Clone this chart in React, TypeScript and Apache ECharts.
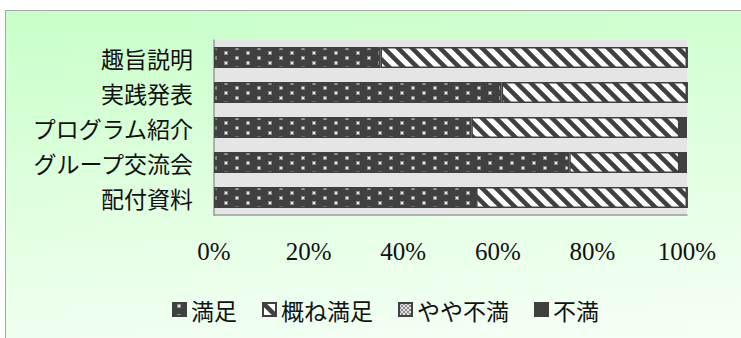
import React, { useEffect, useRef } from "react";
import * as echarts from "echarts";

const categories = ["趣旨説明", "実践発表", "プログラム紹介", "グループ交流会", "配付資料"];
const satisfied = [35.2, 60.8, 54.4, 75.1, 55.4];
const mostlySatisfied = [64.8, 39.2, 44.0, 23.3, 44.6];
const somewhatDissatisfied = [0, 0, 0, 0, 0];
const dissatisfied = [0, 0, 1.6, 1.6, 0];
const seriesNames = ["満足", "概ね満足", "やや不満", "不満"];

function makeCanvas(w: number, h: number, draw: (ctx: CanvasRenderingContext2D) => void) {
  const c = document.createElement("canvas");
  c.width = w;
  c.height = h;
  const ctx = c.getContext("2d")!;
  draw(ctx);
  return c;
}

export default function App() {
  const ref = useRef<HTMLDivElement>(null);
  useEffect(() => {
    if (!ref.current) return;
    const chart = echarts.init(ref.current, null, { renderer: "svg" });
    const dark = "#404040";
    const dots = makeCanvas(22, 10, (ctx) => {
      ctx.fillStyle = dark;
      ctx.fillRect(0, 0, 22, 10);
      ctx.fillStyle = "#8c8c8c";
      ctx.fillRect(4, 1, 4, 4);
      ctx.fillRect(15, 6, 4, 4);
      ctx.fillStyle = "#e8e8e8";
      ctx.fillRect(5, 2, 2, 2);
      ctx.fillRect(16, 7, 2, 2);
    });
    const stripes = makeCanvas(14, 14, (ctx) => {
      ctx.fillStyle = "#ffffff";
      ctx.fillRect(0, 0, 14, 14);
      ctx.strokeStyle = dark;
      ctx.lineWidth = 4.5;
      for (const c of [-28, -14, 0, 14, 28]) {
        ctx.beginPath();
        ctx.moveTo(-6, -6 + c);
        ctx.lineTo(20, 20 + c);
        ctx.stroke();
      }
    });
    const checker = makeCanvas(4, 4, (ctx) => {
      ctx.fillStyle = "#e6e6e6";
      ctx.fillRect(0, 0, 4, 4);
      ctx.fillStyle = "#8a8a8a";
      ctx.fillRect(0, 0, 2, 2);
      ctx.fillRect(2, 2, 2, 2);
    });
    const pat = (img: HTMLCanvasElement) => ({
      type: "pattern",
      image: img,
      repeat: "repeat",
      imageWidth: img.width,
      imageHeight: img.height,
    });
    const fills: any[] = [pat(dots), pat(stripes), pat(checker), dark];
    const values = [satisfied, mostlySatisfied, somewhatDissatisfied, dissatisfied];

    chart.setOption({
      animation: false,
      grid: {
        left: 214,
        right: 54,
        top: 40,
        bottom: 123,
        show: true,
        backgroundColor: "#e5e5e5",
        borderWidth: 0,
      },
      legend: {
        left: 167,
        top: 293,
        itemWidth: 13,
        itemHeight: 13,
        itemGap: 25,
        icon: "rect",
        data: seriesNames,
        textStyle: { fontSize: 23, color: "#111", fontFamily: "Noto Sans CJK JP" },
      },
      xAxis: {
        type: "value",
        min: 0,
        max: 100,
        interval: 20,
        axisLine: { show: true, lineStyle: { color: "#9a9a9a", width: 1.5 } },
        axisTick: { show: false },
        splitLine: { show: false },
        axisLabel: {
          formatter: "{value}%",
          fontSize: 25,
          fontFamily: "Liberation Serif",
          color: "#111",
          margin: 24,
        },
      },
      yAxis: {
        type: "category",
        inverse: true,
        data: categories,
        axisLine: { show: true, lineStyle: { color: "#9a9a9a", width: 1.5 } },
        axisTick: { show: false },
        axisLabel: {
          fontSize: 23,
          fontFamily: "Noto Sans CJK JP",
          color: "#111",
          margin: 21,
        },
      },
      series: seriesNames.map((name, i) => ({
        name,
        type: "bar",
        stack: "total",
        barCategoryGap: "40%",
        data: values[i],
        itemStyle: { color: fills[i], borderColor: dark, borderWidth: 1.5 },
      })),
    } as any);
    return () => chart.dispose();
  }, []);
  return (
    <div style={{ position: "fixed", left: 0, top: 0, width: 741, height: 338, overflow: "hidden", background: "#fff" }}>
      <div
        style={{
          position: "absolute",
          left: 5,
          top: 10,
          width: 800,
          height: 400,
          border: "1.5px solid #a6a6a6",
          background: "linear-gradient(175deg, #c8ffc8 0%, #e2ffe2 45%, #f7fff7 85%)",
        }}
      />
      <div ref={ref} style={{ position: "absolute", left: 0, top: 0, width: 741, height: 338 }} />
    </div>
  );
}
